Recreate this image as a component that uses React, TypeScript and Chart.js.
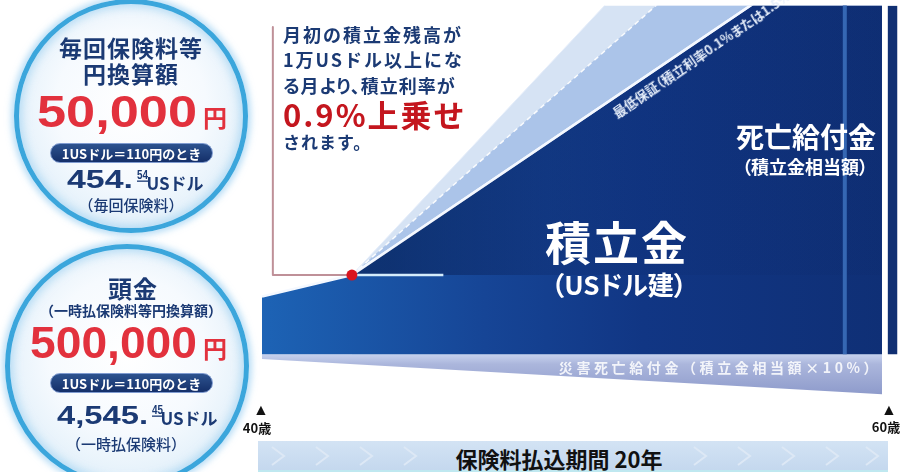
import React, { useEffect, useRef } from 'react';
import { Chart, registerables } from 'chart.js';

Chart.register(...registerables);

// ---- data (schematic amount index; 0 = start of 積立金 block) ----
const ages = [40, 42.9, 60];
const reserveGuaranteed = [59, 81, 448]; // 積立金 (最低保証ライン)
const boostAge = 42.9; // 月初の積立金残高が1万USドル以上になる月
const boostValue = 81;
const thresholdEndAge = 45.85;
const upperAges = [42.9, 60];
const reserveUpper = [81, 660]; // 上乗せ後の上限イメージ
const reserveMid = [81, 562];
const wedgeValues = [81, 448];
const accidentAges = [40, 60];
const accidentValues = [-5, -41]; // 災害死亡給付金 (積立金相当額×10%)
const bracketAges = [40.35, 40.35, 42.9];
const bracketValues = [335, 81, 81];
const dividerAge = 58.8;
const nextAges = [60.18, 60.6];
const nextValues = [357, 357];
const chevronsLeft = [278, 322, 366, 410];
const chevronsRight = [700, 744, 788, 832, 872];

const NAVY = '#1b3a74';
const RED = '#e2313d';
const JP = '"Noto Sans CJK JP", "Noto Sans", sans-serif';
const NUM = '"Liberation Sans", Arial, sans-serif';

const T = ({ x, y, s, children }: any) => (
  <div
    style={{
      position: 'absolute',
      left: x,
      top: y,
      transform: 'translate(-50%, -50%)',
      whiteSpace: 'nowrap',
      lineHeight: 1,
      ...s,
    }}
  >
    {children}
  </div>
);

const L = ({ x, y, s, children }: any) => (
  <div
    style={{
      position: 'absolute',
      left: x,
      top: y,
      transform: 'translateY(-50%)',
      whiteSpace: 'nowrap',
      lineHeight: 1,
      ...s,
    }}
  >
    {children}
  </div>
);

// number drawn to an exact width (left edge x, baseline y)
const N = ({ x, y, w, size, color, underline, children }: any) => (
  <svg
    width={w + 4}
    height={size * 1.3}
    style={{ position: 'absolute', left: x, top: y - size, overflow: 'visible' }}
  >
    <text
      x={0}
      y={size}
      textLength={w}
      lengthAdjust="spacingAndGlyphs"
      style={{ font: `700 ${size}px ${NUM}`, fill: color }}
    >
      {children}
    </text>
    {underline ? <rect x={0} y={size + 1.5} width={w} height={1.3} fill={color} /> : null}
  </svg>
);

const Circle = ({ cx, cy, r }: any) => (
  <div
    style={{
      position: 'absolute',
      left: cx - r,
      top: cy - r,
      width: 2 * r,
      height: 2 * r,
      borderRadius: '50%',
      boxSizing: 'border-box',
      border: '5px solid #3ba6dc',
      background:
        'radial-gradient(circle at 50% 45%, #ffffff 0%, #f6fafe 45%, #deeef9 80%, #c3e2f4 100%)',
      boxShadow:
        '0 0 6px 3px rgba(140,200,240,0.6), inset 0 0 8px 3px rgba(150,205,240,0.6)',
    }}
  />
);

const Pill = ({ x, y, w }: any) => (
  <div
    style={{
      position: 'absolute',
      left: x,
      top: y,
      width: w,
      height: 20,
      borderRadius: 10,
      boxSizing: 'border-box',
      border: '1px solid #7f9bd0',
      background: 'linear-gradient(#2d538f, #142f69)',
      display: 'flex',
      alignItems: 'center',
      justifyContent: 'center',
      color: '#ffffff',
      font: `700 13px ${JP}`,
      whiteSpace: 'nowrap',
    }}
  >
    1USドル＝110円のとき
  </div>
);

export default function App() {
  const ref = useRef<HTMLCanvasElement>(null);

  useEffect(() => {
    const canvas = ref.current!;
    const pts = (xs: number[], ys: number[]) => xs.map((x, i) => ({ x, y: ys[i] }));

    const mainFill = (c: any) => {
      const a = c.chart.chartArea;
      if (!a) return '#16479a';
      const g = c.chart.ctx.createLinearGradient(a.left, 0, a.right, 0);
      g.addColorStop(0, '#1d63b5');
      g.addColorStop(0.35, '#164596');
      g.addColorStop(0.6, '#113684');
      g.addColorStop(1, '#0f2f75');
      return g;
    };
    const wedgeFill = (c: any) => {
      const a = c.chart.chartArea;
      if (!a) return 'rgba(8,28,80,0.5)';
      const g = c.chart.ctx.createLinearGradient(a.left, 0, a.right, 0);
      g.addColorStop(0, 'rgba(6,24,74,0.65)');
      g.addColorStop(0.2, 'rgba(6,24,74,0.55)');
      g.addColorStop(0.45, 'rgba(6,24,74,0.2)');
      g.addColorStop(0.6, 'rgba(6,24,74,0.08)');
      g.addColorStop(1, 'rgba(6,24,74,0.05)');
      return g;
    };
    const accidentFill = (c: any) => {
      const a = c.chart.chartArea;
      const y = c.chart.scales?.y;
      if (!a || !y) return '#a6b1d8';
      const p0 = y.getPixelForValue(0);
      const p1 = y.getPixelForValue(-41);
      if (!isFinite(p0) || !isFinite(p1)) return '#a6b1d8';
      const g = c.chart.ctx.createLinearGradient(0, p0, 0, p1);
      g.addColorStop(0, '#c7d2ee');
      g.addColorStop(0.25, '#abb6dc');
      g.addColorStop(1, '#8e9bcb');
      return g;
    };

    const chart = new Chart(canvas, {
      type: 'line',
      data: {
        datasets: [
          {
            label: 'boost',
            data: [{ x: boostAge, y: boostValue }],
            showLine: false,
            pointRadius: 5.5,
            pointBackgroundColor: '#d9141e',
            pointBorderWidth: 0,
          },
          {
            label: 'bracket',
            data: pts(bracketAges, bracketValues),
            borderColor: '#bf9098',
            borderWidth: 2,
            borderJoinStyle: 'round',
            pointRadius: 0,
            fill: false,
          },
          {
            label: 'threshold',
            data: [
              { x: boostAge, y: boostValue },
              { x: thresholdEndAge, y: boostValue },
            ],
            borderColor: '#d4ecfb',
            borderWidth: 2.5,
            pointRadius: 0,
            fill: false,
          },
          {
            label: 'divider',
            data: [
              { x: dividerAge, y: 0 },
              { x: dividerAge, y: 400 },
            ],
            borderColor: '#3567b3',
            borderWidth: 4,
            pointRadius: 0,
            fill: false,
          },
          {
            label: 'wedge',
            data: pts(upperAges, wedgeValues),
            fill: { value: boostValue },
            backgroundColor: wedgeFill,
            borderColor: '#f4f8ff',
            borderWidth: 2.5,
            pointRadius: 0,
          },
          {
            label: 'guaranteed',
            data: pts(ages, reserveGuaranteed),
            fill: 'origin',
            backgroundColor: mainFill,
            borderColor: '#f4f8ff',
            borderWidth: 2.5,
            pointRadius: 0,
          },
          {
            label: 'mid',
            data: pts(upperAges, reserveMid),
            fill: 'origin',
            backgroundColor: '#abc4e9',
            borderColor: 'rgba(255,255,255,0.9)',
            borderDash: [5, 4],
            borderWidth: 1.5,
            pointRadius: 0,
          },
          {
            label: 'upper',
            data: pts(upperAges, reserveUpper),
            fill: 'origin',
            backgroundColor: '#d6e3f4',
            borderColor: '#e6eefa',
            borderWidth: 1,
            pointRadius: 0,
          },
          {
            label: 'accident',
            data: pts(accidentAges, accidentValues),
            fill: { value: 0 },
            backgroundColor: accidentFill,
            borderWidth: 0,
            pointRadius: 0,
          },
          {
            label: 'next',
            data: pts(nextAges, nextValues),
            fill: 'origin',
            backgroundColor: '#102f72',
            borderWidth: 0,
            pointRadius: 0,
          },
        ],
      } as any,
      options: {
        animation: false,
        responsive: false,
        events: [],
        layout: { padding: { left: 262, right: 0, top: 0, bottom: 0 } },
        scales: {
          x: { type: 'linear', min: 40, max: 60.5, display: false },
          y: { type: 'linear', min: -115, max: 357, display: false },
        },
        plugins: { legend: { display: false }, tooltip: { enabled: false } },
      } as any,
    });
    return () => chart.destroy();
  }, []);

  return (
    <div
      style={{
        position: 'absolute',
        left: 0,
        top: 0,
        width: 903,
        height: 472,
        overflow: 'hidden',
        background: '#ffffff',
        fontFamily: JP,
      }}
    >
      <canvas ref={ref} width={903} height={472} style={{ position: 'absolute', left: 0, top: 0 }} />

      {/* left circles */}
      <Circle cx={131} cy={116} r={117} />
      <Circle cx={127} cy={366} r={122} />

      <T x={131} y={47} s={{ font: `700 23px ${JP}`, color: NAVY, letterSpacing: 1 }}>毎回保険料等</T>
      <T x={131} y={73} s={{ font: `700 23px ${JP}`, color: NAVY, letterSpacing: 1 }}>円換算額</T>
      <N x={37} y={127} w={160} size={44} color={RED}>50,000</N>
      <T x={215} y={116} s={{ font: `700 24px ${JP}`, color: RED }}>円</T>
      <Pill x={50} y={143} w={163} />
      <N x={67} y={188} w={66} size={25} color={NAVY}>454.</N>
      <N x={137} y={179} w={11} size={12} color={NAVY} underline>54</N>
      <T x={175} y={182} s={{ font: `700 17px ${JP}`, color: NAVY }}>USドル</T>
      <T x={131} y={204} s={{ font: `500 15px ${JP}`, color: NAVY }}>（毎回保険料）</T>

      <T x={133} y={287} s={{ font: `700 24px ${JP}`, color: NAVY, letterSpacing: 1 }}>頭金</T>
      <T x={131} y={310} s={{ font: `700 14px ${JP}`, color: NAVY }}>（一時払保険料等円換算額）</T>
      <N x={30} y={358} w={167} size={44} color={RED}>500,000</N>
      <T x={215} y={347} s={{ font: `700 24px ${JP}`, color: RED }}>円</T>
      <Pill x={50} y={373} w={163} />
      <N x={57} y={424} w={91} size={25} color={NAVY}>4,545.</N>
      <N x={152} y={414} w={11} size={12} color={NAVY} underline>45</N>
      <T x={189} y={417} s={{ font: `700 17px ${JP}`, color: NAVY }}>USドル</T>
      <T x={126} y={443} s={{ font: `500 15px ${JP}`, color: NAVY }}>（一時払保険料）</T>

      {/* callout */}
      <L x={283} y={34} s={{ font: `700 18px ${JP}`, color: NAVY, letterSpacing: 2 }}>月初の積立金残高が</L>
      <L x={283} y={59} s={{ font: `700 18px ${JP}`, color: NAVY, letterSpacing: 2 }}>1万USドル以上にな</L>
      <L x={283} y={85} s={{ font: `700 18px ${JP}`, color: NAVY, letterSpacing: 1, fontFeatureSettings: '"palt"' }}>る月より、積立利率が</L>
      <L x={283} y={113} s={{ font: `700 31px ${JP}`, color: '#c4161e', letterSpacing: 2 }}>0.9%上乗せ</L>
      <L x={283} y={141} s={{ font: `700 17px ${JP}`, color: NAVY, letterSpacing: 1 }}>されます。</L>

      {/* chart labels */}
      <div
        style={{
          position: 'absolute',
          left: 614,
          top: 114,
          transformOrigin: 'left center',
          transform: 'translateY(-50%) rotate(-34.5deg)',
          font: `700 13px ${JP}`,
          color: '#e6eefa',
          whiteSpace: 'nowrap',
          lineHeight: 1,
          fontFeatureSettings: '"palt"',
        }}
      >
        最低保証（積立利率0.1%または1.5%）
      </div>
      <T x={617} y={240} s={{ font: `700 46px ${JP}`, color: '#ffffff', letterSpacing: 2 }}>積立金</T>
      <T x={619} y={283} s={{ font: `700 26px ${JP}`, color: '#ffffff', fontFeatureSettings: '"palt"' }}>（USドル建）</T>
      <T x={806} y={136} s={{ font: `700 28px ${JP}`, color: '#ffffff' }}>死亡給付金</T>
      <T x={805} y={166} s={{ font: `700 18px ${JP}`, color: '#ffffff', fontFeatureSettings: '"palt"' }}>（積立金相当額）</T>
      <T x={720} y={367} s={{ font: `700 14px ${JP}`, color: 'rgba(255,255,255,0.85)', letterSpacing: 3.6 }}>
        災害死亡給付金（積立金相当額×10%）
      </T>

      {/* age markers */}
      <T x={261} y={410} s={{ font: `16px ${NUM}`, color: '#111' }}>▲</T>
      <T x={257} y={427} s={{ font: `700 13px ${JP}`, color: '#111' }}>40歳</T>
      <T x={889} y={410} s={{ font: `16px ${NUM}`, color: '#111' }}>▲</T>
      <T x={886} y={426} s={{ font: `700 13px ${JP}`, color: '#111' }}>60歳</T>

      {/* payment period band */}
      <div
        style={{
          position: 'absolute',
          left: 258,
          top: 441,
          width: 630,
          height: 31,
          background: 'linear-gradient(#d3e3f4, #c4d8ee)',
          borderBottom: '2px solid #bfe8f0',
          boxSizing: 'border-box',
        }}
      >
        <svg width={630} height={31} style={{ position: 'absolute', left: 0, top: 0 }}>
          {[...chevronsLeft, ...chevronsRight].map((cx, i) => (
            <polyline
              key={i}
              points={`${cx - 258 - 6},6 ${cx - 258 + 6},15 ${cx - 258 - 6},24`}
              fill="none"
              stroke="#dde8f5"
              strokeWidth={2}
            />
          ))}
        </svg>
      </div>
      <T x={559} y={458} s={{ font: `700 22px ${JP}`, color: '#111' }}>保険料払込期間 20年</T>
    </div>
  );
}
